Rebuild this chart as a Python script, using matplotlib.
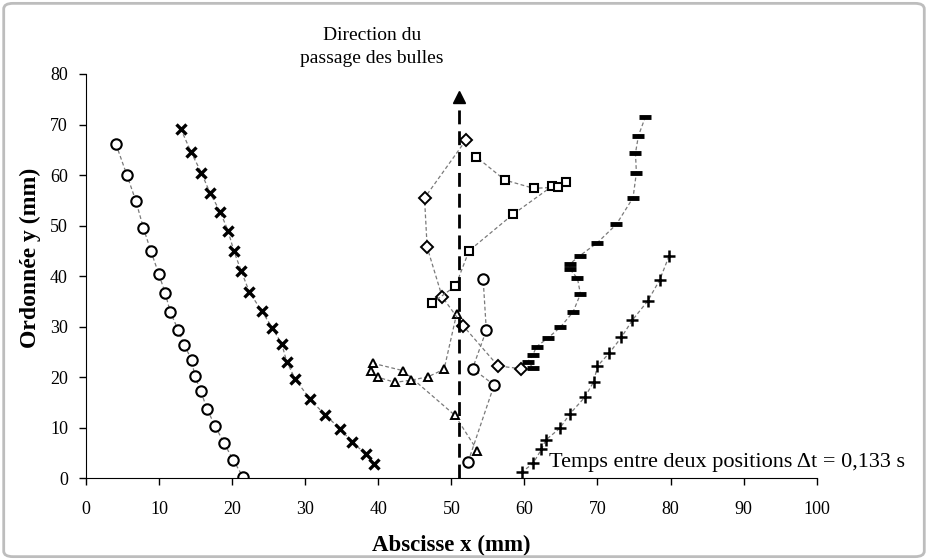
import matplotlib.pyplot as plt
from matplotlib.patches import FancyBboxPatch

plt.rcParams['font.family'] = ['Liberation Serif', 'DejaVu Serif']

# bubble trajectories (mm)
circ_x = [4.10, 5.57, 6.84, 7.84, 8.89, 9.94, 10.85, 11.53, 12.63, 13.45, 14.46, 14.87,
          15.73, 16.55, 17.69, 18.88, 20.15, 21.52]
circ_y = [66.1, 60.1, 54.8, 49.6, 44.9, 40.5, 36.6, 32.9, 29.3, 26.3, 23.5, 20.3,
          17.2, 13.7, 10.3, 7.0, 3.6, 0.2]

cross_x = [12.95, 14.36, 15.77, 16.96, 18.37, 19.43, 20.25, 21.25, 22.34, 24.04, 25.49,
           26.81, 27.46, 28.64, 30.69, 32.74, 34.79, 36.43, 38.26, 39.44]
cross_y = [69.2, 64.6, 60.5, 56.5, 52.7, 49.0, 44.9, 41.0, 36.9, 33.1, 29.8,
           26.5, 23.1, 19.6, 15.6, 12.5, 9.8, 7.1, 4.9, 2.8]

tri_x = [53.58, 50.48, 43.41, 39.30, 38.95, 39.99, 42.27, 44.46, 46.83, 49.01, 50.71]
tri_y = [5.46, 12.47, 21.29, 22.75, 21.29, 19.98, 18.99, 19.39, 20.10, 21.57, 32.45]

diam_x = [51.98, 46.33, 46.69, 48.74, 51.61, 56.40, 59.55]
diam_y = [66.88, 55.46, 45.71, 35.93, 30.19, 22.22, 21.69]

sq_x = [47.33, 50.57, 52.43, 58.45, 63.84, 65.76, 64.57, 61.25, 57.32, 53.39]
sq_y = [34.63, 38.05, 45.03, 52.24, 57.84, 58.57, 57.58, 57.38, 59.02, 63.63]

circ2_x = [52.30, 55.86, 52.90, 54.79, 54.35]
circ2_y = [3.28, 18.46, 21.69, 29.28, 39.49]

dash_x = [76.57, 75.61, 75.20, 75.33, 74.87, 72.60, 69.95, 67.58, 66.21, 66.21, 67.26,
          67.67, 66.66, 64.91, 63.27, 61.66, 61.15, 60.47, 61.15]
dash_y = [71.55, 67.79, 64.31, 60.47, 55.52, 50.26, 46.56, 44.04, 42.40, 41.41, 39.57,
          36.47, 32.90, 29.88, 27.82, 26.04, 24.40, 23.07, 21.92]

plus_x = [79.80, 78.52, 76.88, 74.79, 73.28, 71.59, 70.00, 69.49, 68.26, 66.21, 64.84,
          62.93, 62.34, 61.19, 59.74]
plus_y = [43.98, 39.24, 35.08, 31.32, 27.90, 24.73, 22.22, 19.11, 16.03, 12.72, 9.89,
          7.58, 5.74, 2.97, 1.31]

# direction arrow
arrow_x = 51.1
arrow_top = 75.5

fig = plt.figure(figsize=(9.28, 5.6), dpi=100)
ax = fig.add_axes([0.0927, 0.1459, 0.7873, 0.722])

line_kw = dict(ls=(0, (3, 2)), lw=0.9, color='#7a7a7a', mec='black', mfc='white')

ax.plot(circ_x, circ_y, marker='o', ms=7.5, mew=1.5, **line_kw)
ax.plot(cross_x, cross_y, marker='x', ms=7, mew=2.4, **line_kw)
ax.plot(tri_x, tri_y, marker='^', ms=6, mew=1.4, **line_kw)
ax.plot(diam_x, diam_y, marker='D', ms=6, mew=1.4, **line_kw)
ax.plot(sq_x, sq_y, marker='s', ms=5.5, mew=1.5, **line_kw)
ax.plot(circ2_x, circ2_y, marker='o', ms=7.5, mew=1.5, **line_kw)
ax.plot(dash_x, dash_y, marker='_', ms=9, mew=3.5, **line_kw)
ax.plot(plus_x, plus_y, marker='+', ms=9, mew=1.8, **line_kw)

ax.plot([arrow_x, arrow_x], [0, arrow_top - 1.5], color='black', lw=2, ls=(0, (5, 2.5)))
ax.plot([arrow_x], [arrow_top], marker='^', ms=8, color='black', clip_on=False)

ax.set_xlim(0, 100)
ax.set_ylim(0, 80)
ax.set_xticks(range(0, 101, 10))
ax.set_yticks(range(0, 81, 10))
ax.tick_params(labelsize=13, length=5, width=1, pad=11, direction='out')
ax.tick_params(axis='y', pad=8)
ax.spines['top'].set_visible(False)
ax.spines['right'].set_visible(False)

ax.set_xlabel('Abscisse x (mm)', fontsize=16.5, fontweight='bold', va='center')
ax.xaxis.set_label_coords(0.5, -0.165)
ax.set_ylabel('Ordonnée y (mm)', fontsize=17, fontweight='bold')
ax.yaxis.set_label_coords(-0.061, 0.545)

fig.text(0.401, 0.952, 'Direction du\npassage des bulles', ha='center', va='top',
         fontsize=14, linespacing=1.45)
ax.text(0.634, 0.015, 'Temps entre deux positions Δt = 0,133 s', transform=ax.transAxes,
        fontsize=16, ha='left', va='bottom')

fig.patches.append(FancyBboxPatch((0.004, 0.006), 0.992, 0.988, boxstyle='round,pad=0,rounding_size=0.01',
                                  transform=fig.transFigure, fill=False, ec='#bdbdbd', lw=2))

fig.savefig('out.png', dpi=100)
